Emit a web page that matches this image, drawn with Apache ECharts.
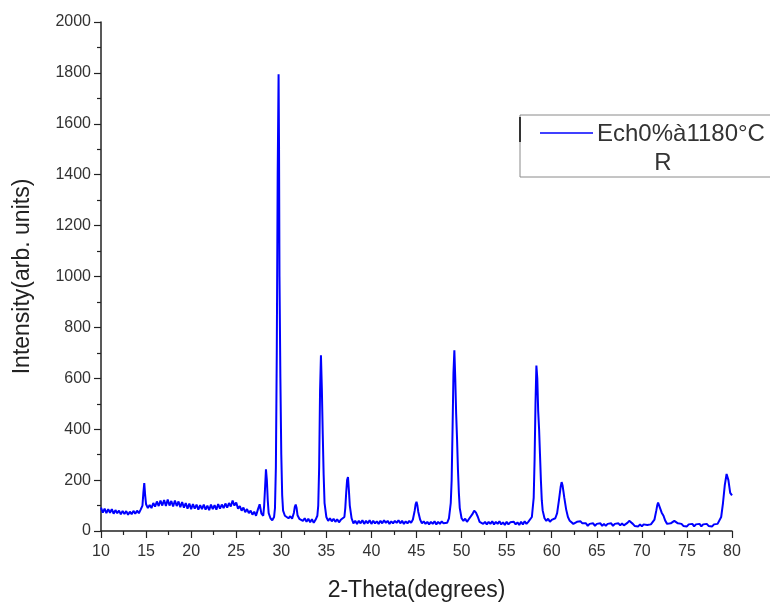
<!DOCTYPE html>
<html>
<head>
<meta charset="utf-8">
<script src="https://cdn.jsdelivr.net/npm/echarts@6/dist/echarts.min.js"></script>
<style>
  html, body { margin: 0; padding: 0; background: #fff; }
  #chart { width: 770px; height: 607px; }
</style>
</head>
<body>
<div id="chart"></div>
<script>
// axis setup
const xTicks = [10, 15, 20, 25, 30, 35, 40, 45, 50, 55, 60, 65, 70, 75, 80];
const yTicks = [0, 200, 400, 600, 800, 1000, 1200, 1400, 1600, 1800, 2000];
const seriesName = 'Ech0%à1180°C';
const legendSub = 'R';

// 2-theta positions (degrees); rows match the intensity rows below
const theta = [
    10.0, 10.2, 10.4, 10.6, 10.8, 11.0, 11.2, 11.4, 11.6, 11.8, 12.0, 12.2, 12.4, 12.6, 12.8, 13.0, 13.2, 13.4, 13.6, 13.8, 14.0, 14.2, 14.4,
    14.6, 14.7, 14.8, 14.9, 15.0, 15.2,
    15.4, 15.6, 15.8, 16.0, 16.2, 16.4, 16.6, 16.8, 17.0, 17.2, 17.4, 17.6, 17.8, 18.0, 18.2, 18.4, 18.6, 18.8, 19.0, 19.2,
    19.4, 19.6, 19.8, 20.0, 20.2, 20.4, 20.6, 20.8, 21.0, 21.2, 21.4, 21.6, 21.8, 22.0, 22.2, 22.4, 22.6, 22.8, 23.0, 23.2,
    23.4, 23.6, 23.8, 24.0, 24.2, 24.4, 24.6, 24.8, 25.0, 25.2, 25.4, 25.6, 25.8, 26.0, 26.2, 26.4, 26.6, 26.8, 27.0, 27.2,
    27.4, 27.6, 27.8, 28.0,
    28.1, 28.2, 28.3, 28.4, 28.5, 28.6, 28.8, 29.0, 29.2,
    29.3, 29.4, 29.5, 29.6, 29.7, 29.75, 29.8, 29.9, 30.0, 30.1, 30.2, 30.4,
    30.6, 30.8, 31.0, 31.2, 31.4, 31.5, 31.6, 31.7, 31.8, 32.0, 32.2, 32.4, 32.6, 32.8, 33.0, 33.2, 33.4, 33.6, 33.8, 34.0,
    34.1, 34.2, 34.3, 34.4, 34.5, 34.6, 34.7, 34.8, 35.0, 35.2,
    35.4, 35.6, 35.8, 36.0, 36.2, 36.4, 36.6, 36.8, 37.0,
    37.1, 37.2, 37.3, 37.4, 37.5, 37.6, 37.8, 38.0,
    38.2, 38.4, 38.6, 38.8, 39.0, 39.2, 39.4, 39.6, 39.8, 40.0, 40.2, 40.4, 40.6, 40.8, 41.0, 41.2,
    41.4, 41.6, 41.8, 42.0, 42.2, 42.4, 42.6, 42.8, 43.0, 43.2, 43.4, 43.6, 43.8, 44.0, 44.2, 44.4,
    44.6, 44.8, 44.9, 45.0, 45.1, 45.2, 45.4, 45.6,
    45.8, 46.0, 46.2, 46.4, 46.6, 46.8, 47.0, 47.2, 47.4, 47.6, 47.8, 48.0, 48.2, 48.4,
    48.6, 48.8, 48.9, 49.0, 49.1, 49.2, 49.3, 49.4, 49.5, 49.6, 49.7, 49.8, 50.0, 50.2,
    50.4, 50.6, 50.8, 51.0, 51.2, 51.4, 51.6, 51.8, 52.0, 52.2,
    52.4, 52.6, 52.8, 53.0, 53.2, 53.4, 53.6, 53.8, 54.0, 54.2, 54.4, 54.6, 54.8, 55.0,
    55.2, 55.4, 55.6, 55.8, 56.0, 56.2, 56.4, 56.6, 56.8, 57.0, 57.2, 57.4, 57.6,
    57.8, 58.0, 58.1, 58.2, 58.3, 58.4, 58.5, 58.6, 58.7, 58.8, 58.9, 59.0, 59.2,
    59.4, 59.6, 59.8, 60.0, 60.2, 60.4, 60.6, 60.8, 61.0, 61.1, 61.2, 61.4, 61.6, 61.8,
    62.0, 62.2, 62.4, 62.6, 62.8, 63.0, 63.2, 63.4, 63.6,
    63.8, 64.0, 64.2, 64.4, 64.6, 64.8, 65.0, 65.2, 65.4, 65.6, 65.8, 66.0,
    66.2, 66.4, 66.6, 66.8, 67.0, 67.2, 67.4, 67.6, 67.8, 68.0, 68.2,
    68.4, 68.6, 68.8, 69.0, 69.2,
    69.4, 69.6, 69.8, 70.0, 70.2, 70.4, 70.6, 70.8, 71.0, 71.2,
    71.4, 71.6, 71.7, 71.8, 71.9, 72.0, 72.2, 72.4, 72.6, 72.8,
    73.0, 73.2, 73.4, 73.6, 73.8, 74.0, 74.2, 74.4, 74.6, 74.8, 75.0, 75.2, 75.4, 75.6, 75.8,
    76.0, 76.2, 76.4, 76.6, 76.8, 77.0, 77.2, 77.4, 77.6, 77.8, 78.0, 78.2, 78.4, 78.6,
    78.8, 79.0, 79.2, 79.4, 79.5, 79.6, 79.8, 80.0
];

// intensity (arb. units), one value per theta above
const intensity = [
    92, 72, 88, 70, 86, 72, 86, 68, 82, 70, 80, 66, 79, 67, 78, 64, 76, 66, 79, 68, 80, 70, 84,
    100, 150, 188, 140, 105, 90,
    102, 90, 110, 96, 116, 98, 120, 100, 122, 98, 124, 100, 118, 96, 120, 98, 116, 94, 114, 92,
    110, 88, 108, 86, 106, 88, 104, 84, 102, 86, 104, 84, 100, 82, 104, 86, 102, 84, 106, 88,
    104, 90, 108, 92, 110, 96, 120, 100, 112, 88, 98, 80, 92, 74, 86, 70, 80, 64, 76, 60,
    84, 105, 68, 60,
    100, 170, 242, 200, 120, 70, 50, 42, 55,
    90, 250, 700, 1400, 1795, 1500, 1000, 600, 300, 140, 80, 60,
    64, 50, 58, 48, 72, 95, 104, 90, 62, 48, 54, 40, 50, 36, 48, 34, 46, 32, 44, 60,
    100, 250, 550, 690, 560, 380, 220, 110, 55, 40,
    50, 38, 48, 36, 46, 34, 44, 40, 55,
    90, 150, 200, 212, 160, 100, 50, 30,
    40, 28, 40, 30, 42, 28, 40, 30, 42, 28, 40, 30, 38, 28, 40, 30,
    42, 32, 40, 28, 38, 30, 40, 32, 42, 30, 40, 28, 38, 30, 40, 32,
    45, 80, 105, 115, 100, 75, 45, 30,
    38, 28, 36, 26, 36, 28, 38, 26, 36, 28, 38, 30, 36, 32,
    50, 110, 200, 400, 620, 710, 600, 460, 360, 240, 150, 90, 50, 40,
    48, 36, 46, 52, 66, 80, 72, 56, 36, 40,
    28, 36, 26, 36, 28, 38, 26, 36, 28, 38, 26, 34, 24, 36,
    26, 34, 28, 36, 26, 34, 24, 36, 26, 38, 28, 36, 34,
    55, 130, 280, 500, 650, 600, 470, 400, 300, 200, 120, 80, 50,
    40, 48, 36, 44, 40, 50, 70, 120, 175, 192, 180, 130, 85, 55,
    40, 34, 28, 32, 36, 42, 38, 30, 24,
    30, 20, 28, 22, 30, 20, 28, 22, 30, 20, 28, 20,
    28, 22, 30, 20, 28, 22, 30, 22, 30, 22, 28,
    32, 40, 36, 28, 20,
    26, 18, 26, 18, 26, 20, 24, 18, 26, 28,
    45, 80, 100, 112, 105, 92, 72, 60, 40, 28,
    24, 30, 36, 40, 36, 30, 24, 28, 20, 26, 18, 26, 20, 28, 18,
    26, 20, 28, 18, 26, 20, 28, 20, 26, 18, 26, 20, 28, 30,
    55, 110, 180, 224, 218, 200, 150, 140
];

const chart = echarts.init(document.getElementById('chart'));

const font = 'Liberation Sans, Arial, sans-serif';
const axisColor = '#222';

const option = {
    animation: false,
    backgroundColor: '#fff',
    grid: { left: 101, right: 38, top: 22, bottom: 73, containLabel: false },
    xAxis: {
        type: 'value',
        min: xTicks[0],
        max: xTicks[xTicks.length - 1],
        interval: 5,
        name: '2-Theta(degrees)',
        nameLocation: 'middle',
        nameGap: 48,
        nameTextStyle: { fontFamily: font, fontSize: 23, color: '#222' },
        axisLine: { show: true, lineStyle: { color: axisColor, width: 1.5 } },
        axisTick: { show: true, inside: false, length: 7, lineStyle: { color: axisColor, width: 1.2 } },
        minorTick: { show: true, splitNumber: 2, length: 4, lineStyle: { color: axisColor, width: 1.2 } },
        axisLabel: { fontFamily: font, fontSize: 16, color: '#333', margin: 13 },
        splitLine: { show: false }
    },
    yAxis: {
        type: 'value',
        min: yTicks[0],
        max: yTicks[yTicks.length - 1],
        interval: 200,
        name: 'Intensity(arb. units)',
        nameLocation: 'middle',
        nameGap: 67,
        nameTextStyle: { fontFamily: font, fontSize: 23, color: '#222' },
        axisLine: { show: true, lineStyle: { color: axisColor, width: 1.5 } },
        axisTick: { show: true, inside: false, length: 7, lineStyle: { color: axisColor, width: 1.2 } },
        minorTick: { show: true, splitNumber: 2, length: 4, lineStyle: { color: axisColor, width: 1.2 } },
        axisLabel: { fontFamily: font, fontSize: 16, color: '#333', margin: 10, formatter: v => String(v) },
        splitLine: { show: false }
    },
    series: [
        {
            name: seriesName,
            type: 'line',
            data: theta.map((t, i) => [t, intensity[i]]),
            showSymbol: false,
            smooth: false,
            lineStyle: { color: '#0000ff', width: 2 },
            itemStyle: { color: '#0000ff' }
        }
    ],
    graphic: [
        {
            type: 'rect',
            shape: { x: 520, y: 115, width: 280, height: 62 },
            style: { fill: '#fff', stroke: '#8a8a8a', lineWidth: 1 },
            z: 10
        },
        {
            type: 'line',
            shape: { x1: 520, y1: 117, x2: 520, y2: 142 },
            style: { stroke: '#333', lineWidth: 2 },
            z: 11
        },
        {
            type: 'line',
            shape: { x1: 540, y1: 133, x2: 593, y2: 133 },
            style: { stroke: '#0000ff', lineWidth: 1.3 },
            z: 11
        },
        {
            type: 'text',
            x: 597,
            y: 134,
            style: { text: seriesName, fontFamily: font, fontSize: 24, fill: '#333', verticalAlign: 'middle' },
            z: 11
        },
        {
            type: 'text',
            x: 663,
            y: 163,
            style: { text: legendSub, fontFamily: font, fontSize: 24, fill: '#333', align: 'center', verticalAlign: 'middle' },
            z: 11
        }
    ]
};

chart.setOption(option);
window.addEventListener('resize', () => chart.resize());
</script>
</body>
</html>
